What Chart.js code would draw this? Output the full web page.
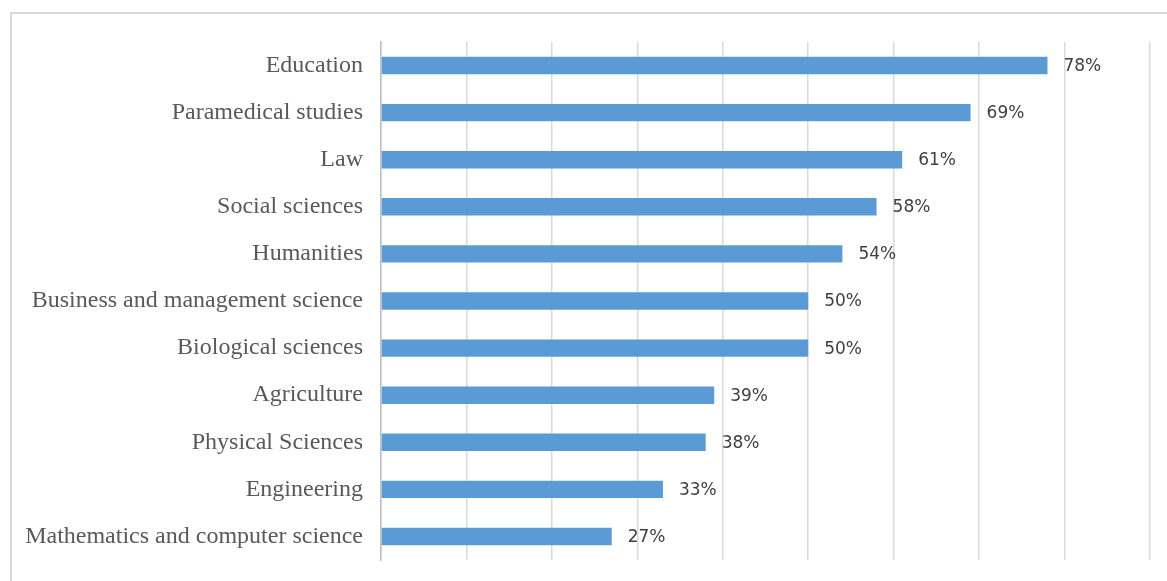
<!DOCTYPE html>
<html>
<head>
<meta charset="utf-8">
<script src="https://cdn.jsdelivr.net/npm/chart.js@4"></script>
<style>
  body { margin: 0; background: #fff; }
  #wrap { position: relative; width: 1167px; height: 581px; overflow: hidden; }
  #frame { position: absolute; left: 10px; top: 12px; width: 1170px; height: 600px; border: 2px solid #d9d9d9; box-sizing: border-box; }
  #myChart { position: absolute; left: 0; top: 0; }
</style>
</head>
<body>
<div id="wrap">
  <div id="frame"></div>
  <canvas id="myChart" width="1167" height="581"></canvas>
</div>
<script>
var fields = ['Education',
    'Paramedical studies',
    'Law',
    'Social sciences',
    'Humanities',
    'Business and management science',
    'Biological sciences',
    'Agriculture',
    'Physical Sciences',
    'Engineering',
    'Mathematics and computer science'];
var shares = [78, 69, 61, 58, 54, 50, 50, 39, 38, 33, 27];
var axisMax = 90;
var axisStep = 10;

// value labels at the end of each bar
var barLabels = {
    id: 'barLabels',
    afterDatasetsDraw: function(chart) {
        var ctx = chart.ctx;
        var meta = chart.getDatasetMeta(0);
        ctx.save();
        ctx.font = '17px "DejaVu Sans"';
        ctx.fillStyle = '#404040';
        ctx.textAlign = 'left';
        ctx.textBaseline = 'middle';
        meta.data.forEach(function(bar, i) {
            ctx.fillText(shares[i] + '%', bar.x + 16, bar.y + 1);
        });
        ctx.restore();
    }
};

var ctx = document.getElementById('myChart').getContext('2d');
var myChart = new Chart(ctx, {
    type: 'bar',
    data: {
        labels: fields,
        datasets: [{
            label: 'Share',
            data: shares,
            backgroundColor: '#5b9bd5',
            categoryPercentage: 1,
            barPercentage: 0.37
        }]
    },
    options: {
        indexAxis: 'y',
        responsive: false,
        animation: false,
        layout: {
            padding: { left: 0, top: 42, right: 17, bottom: 21 }
        },
        plugins: {
            legend: { display: false },
            tooltip: { enabled: false }
        },
        scales: {
            x: {
                min: 0,
                max: axisMax,
                afterFit: function(scale) { scale.height = 0; },
                ticks: { display: false, stepSize: axisStep },
                grid: { color: '#d9d9d9', lineWidth: 1.5, drawTicks: false },
                border: { display: false }
            },
            y: {
                afterFit: function(scale) {
                    scale.width = 381;
                    scale.paddingTop = 0;
                    scale.paddingBottom = 0;
                },
                ticks: {
                    padding: 18,
                    color: '#595959',
                    font: { family: '"Liberation Serif"', size: 24 }
                },
                grid: { display: false, drawTicks: false },
                border: { display: true, color: '#bfbfbf', width: 1.5 }
            }
        }
    },
    plugins: [barLabels]
});
</script>
</body>
</html>
